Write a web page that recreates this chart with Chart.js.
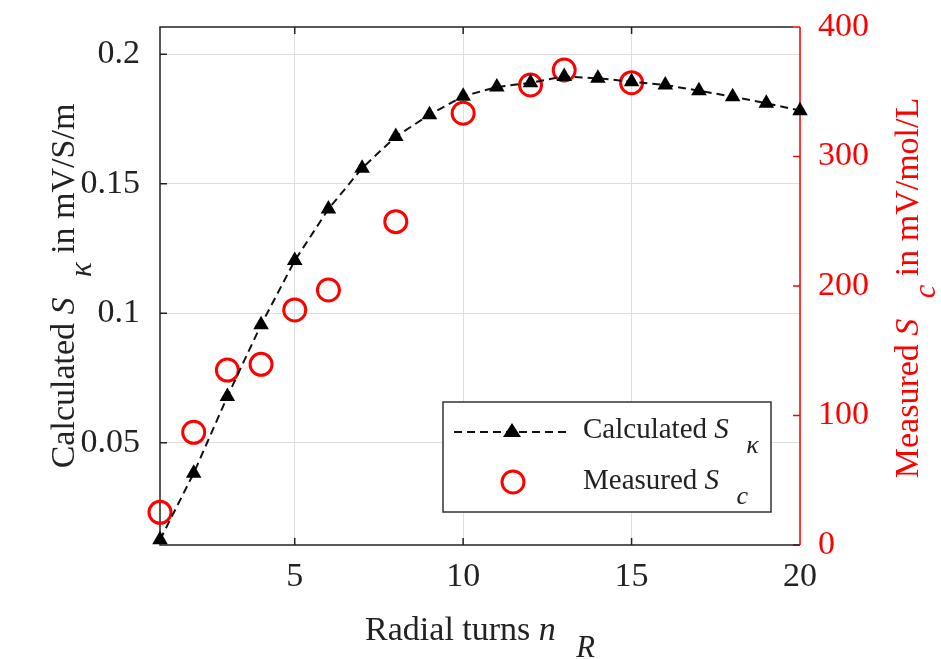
<html>
  <head>
    <title>Radial turns sensitivity</title>
    <script src="https://cdn.jsdelivr.net/npm/chart.js"></script>
    <style>
      body { margin: 0; background: #fff; }
    </style>
  </head>
  <body>
    <canvas id="myChart" width="941" height="659"></canvas>

  <script>
    // values
    const turnsCalc = [1,2,3,4,5,6,7,8,9,10,11,12,13,14,15,16,17,18,19,20];
    const calcSk = [0.0125, 0.0382, 0.0678, 0.0955, 0.1203, 0.1402, 0.156, 0.1682, 0.1766, 0.1838,
                    0.1873, 0.189, 0.1914, 0.1907, 0.1894, 0.1881, 0.1859, 0.1836, 0.1811, 0.1782];
    const turnsMeas = [1, 2, 3, 4, 5, 6, 8, 10, 12, 13, 15];
    const measSc = [25.2, 87, 135.1, 139.5, 181.5, 196.9, 249.7, 333.4, 355.2, 366.8, 357];

    const xTicks = [5, 10, 15, 20];
    const leftTicks = [0.05, 0.1, 0.15, 0.2];
    const rightTicks = [0, 100, 200, 300, 400];

    const xTitle = [{t: "Radial turns "}, {t: "n", it: true}, {t: "R", it: true, sub: true}];
    const leftTitle = [{t: "Calculated "}, {t: "S", it: true}, {t: "\u03BA", it: true, sub: true}, {t: " in mV/S/m"}];
    const rightTitle = [{t: "Measured "}, {t: "S", it: true}, {t: "c", it: true, sub: true}, {t: " in mV/mol/L"}];
    const legendCalc = [{t: "Calculated "}, {t: "S", it: true}, {t: "\u03BA", it: true, sub: true}];
    const legendMeas = [{t: "Measured "}, {t: "S", it: true}, {t: "c", it: true, sub: true}];

    const SERIF = "'Liberation Serif', 'Times New Roman', serif";
    const RED = "#ff0000";

    function fontStr(size, it) {
      return (it ? "italic " : "") + size + "px " + SERIF;
    }

    // draws text pieces with italic / subscript parts (MATLAB puts a wide gap before subscripts)
    function drawRich(ctx, segs, x, y, size, align, color) {
      ctx.fillStyle = color;
      ctx.textBaseline = "alphabetic";
      ctx.textAlign = "left";
      const gap = size * 0.6;
      let widths = segs.map(s => {
        ctx.font = fontStr(s.sub ? size * 0.9 : size, s.it);
        return ctx.measureText(s.t).width + (s.sub ? gap : 0);
      });
      let total = widths.reduce((a, b) => a + b, 0);
      let cx = align == "center" ? x - total / 2 : x;
      segs.forEach((s, i) => {
        ctx.font = fontStr(s.sub ? size * 0.9 : size, s.it);
        ctx.fillText(s.t, cx + (s.sub ? gap : 0), y + (s.sub ? size * 0.5 : 0));
        cx += widths[i];
      });
    }

    const decor = {
      id: "decor",
      beforeDatasetsDraw(chart) {
        const ctx = chart.ctx;
        const a = chart.chartArea;
        const sx = chart.scales.x, sy = chart.scales.y, sy2 = chart.scales.y2;
        ctx.save();
        // tick marks pointing inwards
        ctx.lineWidth = 1.5;
        ctx.strokeStyle = "#222";
        ctx.beginPath();
        xTicks.slice(0, 3).forEach(v => {
          let px = sx.getPixelForValue(v);
          ctx.moveTo(px, a.bottom); ctx.lineTo(px, a.bottom - 7);
          ctx.moveTo(px, a.top); ctx.lineTo(px, a.top + 7);
        });
        leftTicks.forEach(v => {
          let py = sy.getPixelForValue(v);
          ctx.moveTo(a.left, py); ctx.lineTo(a.left + 7, py);
        });
        ctx.stroke();
        ctx.strokeStyle = RED;
        ctx.beginPath();
        rightTicks.forEach(v => {
          let py = sy2.getPixelForValue(v);
          ctx.moveTo(a.right, py); ctx.lineTo(a.right - 7, py);
        });
        ctx.stroke();
        // box
        ctx.strokeStyle = "#222";
        ctx.beginPath();
        ctx.moveTo(a.right - 7, a.top); ctx.lineTo(a.left, a.top);
        ctx.lineTo(a.left, a.bottom); ctx.lineTo(a.right, a.bottom);
        ctx.stroke();
        ctx.strokeStyle = RED;
        ctx.beginPath();
        ctx.moveTo(a.right, a.bottom); ctx.lineTo(a.right, a.top);
        ctx.stroke();
        ctx.restore();
      },
      afterDraw(chart) {
        const ctx = chart.ctx;
        const a = chart.chartArea;
        ctx.save();
        // axis titles
        drawRich(ctx, xTitle, (a.left + a.right) / 2, 640, 34, "center", "#222");
        ctx.save();
        ctx.translate(74, (a.top + a.bottom) / 2);
        ctx.rotate(-Math.PI / 2);
        drawRich(ctx, leftTitle, 0, 0, 34, "center", "#222");
        ctx.restore();
        ctx.save();
        ctx.translate(918, (a.top + a.bottom) / 2 + 2);
        ctx.rotate(-Math.PI / 2);
        drawRich(ctx, rightTitle, 0, 0, 34, "center", RED);
        ctx.restore();

        // legend box
        ctx.fillStyle = "#fff";
        ctx.fillRect(443, 402, 328, 110);
        ctx.strokeStyle = "#333";
        ctx.lineWidth = 1.5;
        ctx.strokeRect(443, 402, 328, 110);
        ctx.strokeStyle = "#111";
        ctx.lineWidth = 2;
        ctx.setLineDash([8, 5]);
        ctx.beginPath();
        ctx.moveTo(454, 432); ctx.lineTo(567, 432);
        ctx.stroke();
        ctx.setLineDash([]);
        ctx.fillStyle = "#000";
        ctx.beginPath();
        ctx.moveTo(512, 423); ctx.lineTo(521, 437); ctx.lineTo(503, 437);
        ctx.closePath();
        ctx.fill();
        ctx.strokeStyle = RED;
        ctx.lineWidth = 3;
        ctx.beginPath();
        ctx.arc(513, 482, 11, 0, Math.PI * 2);
        ctx.stroke();
        drawRich(ctx, legendCalc, 583, 438, 29, "left", "#222");
        drawRich(ctx, legendMeas, 583, 489, 29, "left", "#222");
        ctx.restore();
      }
    };

    const data = {
      datasets: [{
        label: "Calculated",
        data: turnsCalc.map((n, i) => ({x: n, y: calcSk[i]})),
        yAxisID: "y",
        showLine: true,
        borderColor: "#111",
        borderWidth: 2,
        borderDash: [8, 5],
        pointStyle: "triangle",
        pointRadius: 9,
        pointBackgroundColor: "#000",
        pointBorderColor: "#000",
        pointBorderWidth: 0,
        clip: false
      }, {
        label: "Measured",
        data: turnsMeas.map((n, i) => ({x: n, y: measSc[i]})),
        yAxisID: "y2",
        showLine: false,
        pointStyle: "circle",
        pointRadius: 11,
        pointBackgroundColor: "rgba(0,0,0,0)",
        pointBorderColor: RED,
        pointBorderWidth: 3,
        clip: false
      }]
    };

    // keep the plot box where the figure has it
    function noPadY(s, w) { s.width = w; s.paddingTop = 0; s.paddingBottom = 0; }

    const config = {
      type: "scatter",
      data: data,
      plugins: [decor],
      options: {
        responsive: false,
        animation: false,
        devicePixelRatio: 1,
        layout: { padding: { top: 27, left: 0, right: 0, bottom: 0 } },
        plugins: { legend: { display: false }, tooltip: { enabled: false } },
        scales: {
          x: {
            type: "linear",
            min: 1, max: 20,
            afterBuildTicks: s => { s.ticks = xTicks.map(v => ({value: v})); },
            afterFit: s => { s.height = 114; s.paddingLeft = 0; s.paddingRight = 0; },
            grid: { color: "#dedede", lineWidth: 1, drawTicks: false },
            border: { display: false },
            ticks: { color: "#222", padding: 12, font: { family: SERIF, size: 34 } }
          },
          y: {
            type: "linear",
            position: "left",
            min: 0.0105, max: 0.2105,
            afterBuildTicks: s => { s.ticks = leftTicks.map(v => ({value: v})); },
            afterFit: s => noPadY(s, 160),
            grid: { color: "#dedede", lineWidth: 1, drawTicks: false },
            border: { display: false },
            ticks: { color: "#222", padding: 20, font: { family: SERIF, size: 34 },
                     callback: v => String(v) }
          },
          y2: {
            type: "linear",
            position: "right",
            min: 0, max: 400,
            afterBuildTicks: s => { s.ticks = rightTicks.map(v => ({value: v})); },
            afterFit: s => noPadY(s, 141),
            grid: { display: false, drawTicks: false },
            border: { display: false },
            ticks: { color: RED, padding: 18, font: { family: SERIF, size: 34 } }
          }
        }
      }
    };

    window.myChart = new Chart(document.getElementById("myChart"), config);
  </script>
  </body>
</html>
